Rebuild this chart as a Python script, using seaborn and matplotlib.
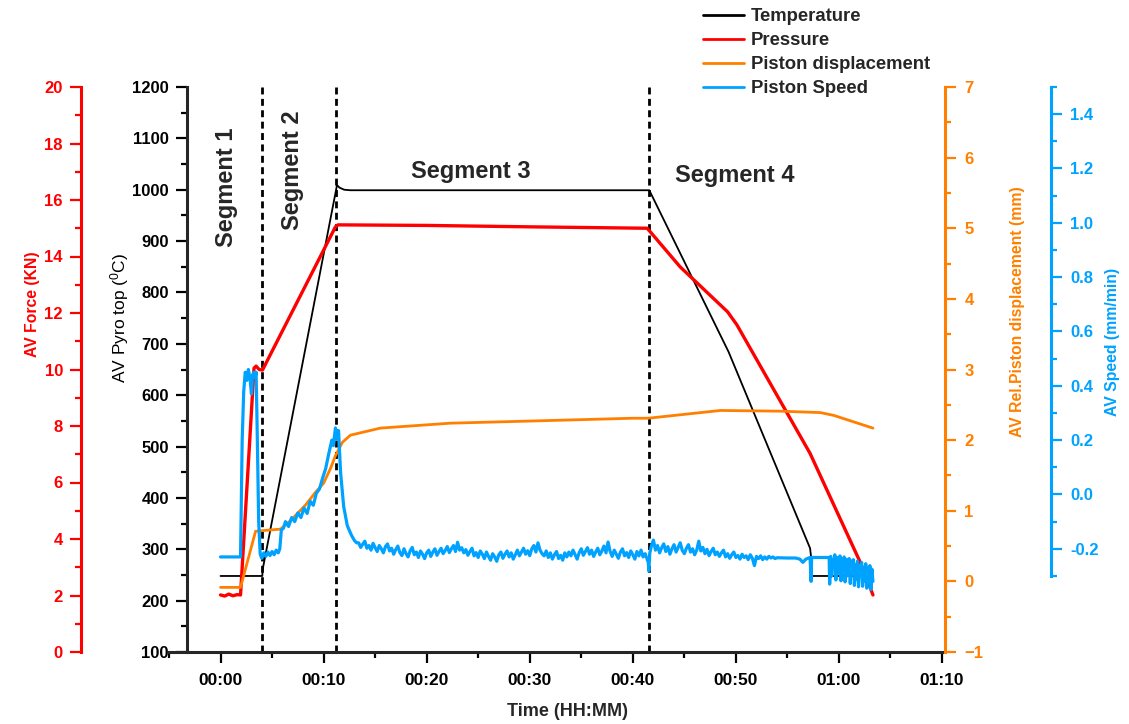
import matplotlib
matplotlib.use("Agg")
import matplotlib.pyplot as plt
from matplotlib.ticker import FixedLocator, FixedFormatter
import pandas as pd
import seaborn as sns

# ---- measured series (time in minutes) ----
temp_t = [0.00, 4.05, 4.10, 11.30, 11.55, 12.00, 12.60, 41.60, 49.30, 57.20, 57.30, 57.33, 63.30]
temp_v = [248, 248, 262, 1009, 1004, 1000, 999, 999, 684, 302, 285, 248, 248]

force_t = [0.00, 0.40, 0.80, 1.20, 1.60, 1.94, 3.25, 3.45, 3.75, 4.07, 11.15, 11.40,
           20.00, 30.00, 41.40, 44.60, 49.20, 50.10, 57.20, 62.10, 63.30]
force_v = [2.02, 1.98, 2.05, 1.99, 2.03, 2.02, 10.05, 10.12, 10.00, 9.98, 15.05, 15.12,
           15.10, 15.05, 15.00, 13.63, 12.04, 11.58, 7.03, 3.15, 2.02]

disp_t = [0.00, 1.94, 3.40, 5.82, 6.79, 8.24, 9.21, 10.00, 10.67, 11.15, 11.83, 12.60,
          15.50, 22.30, 30.00, 40.00, 41.50, 48.50, 54.30, 58.20, 59.50, 63.30]
disp_v = [-0.085, -0.085, 0.71, 0.74, 0.86, 1.08, 1.26, 1.39, 1.60, 1.78, 1.97, 2.07,
          2.17, 2.24, 2.27, 2.31, 2.31, 2.42, 2.41, 2.39, 2.35, 2.17]

speed_t = [
    # start-up pulse
    0.00, 1.94, 2.10, 2.25, 2.40, 2.55, 2.70, 2.85, 3.00, 3.10, 3.25, 3.35, 3.45, 3.55, 3.70, 3.85,
    4.00, 4.20, 4.40, 4.60, 4.80, 5.00, 5.20, 5.40, 5.60, 5.75, 5.90,
    # heating ramp
    6.10, 6.30, 6.60, 6.90, 7.20, 7.50, 7.80, 8.10, 8.40, 8.70, 9.00, 9.30, 9.60, 9.90, 10.20,
    10.50, 10.80, 10.95, 11.15, 11.30, 11.45, 11.65, 11.95, 12.30, 12.70, 13.00, 13.20,
    # dwell
    13.4, 13.6, 13.8, 14.0, 14.2, 14.4, 14.6, 14.8, 15.0, 15.2,
    15.4, 15.6, 15.8, 16.0, 16.2, 16.4, 16.6, 16.8, 17.0, 17.2,
    17.4, 17.6, 17.8, 18.0, 18.2, 18.4, 18.6, 18.8, 19.0, 19.2,
    19.4, 19.6, 19.8, 20.0, 20.2, 20.4, 20.6, 20.8, 21.0, 21.2,
    21.4, 21.6, 21.8, 22.0, 22.2, 22.4, 22.6, 22.8, 23.0, 23.2,
    23.4, 23.6, 23.8, 24.0, 24.2, 24.4, 24.6, 24.8, 25.0, 25.2,
    25.4, 25.6, 25.8, 26.0, 26.2, 26.4, 26.6, 26.8, 27.0, 27.2,
    27.4, 27.6, 27.8, 28.0, 28.2, 28.4, 28.6, 28.8, 29.0, 29.2,
    29.4, 29.6, 29.8, 30.0, 30.2, 30.4, 30.6, 30.8, 31.0, 31.2,
    31.4, 31.6, 31.8, 32.0, 32.2, 32.4, 32.6, 32.8, 33.0, 33.2,
    33.4, 33.6, 33.8, 34.0, 34.2, 34.4, 34.6, 34.8, 35.0, 35.2,
    35.4, 35.6, 35.8, 36.0, 36.2, 36.4, 36.6, 36.8, 37.0, 37.2,
    37.4, 37.6, 37.8, 38.0, 38.2, 38.4, 38.6, 38.8, 39.0, 39.2,
    39.4, 39.6, 39.8, 40.0, 40.2, 40.4, 40.6, 40.8, 41.0, 41.2,
    41.4,
    # cooling
    41.50, 41.55, 41.65, 41.80, 42.00,
    42.2, 42.4, 42.6, 42.8, 43.0, 43.2, 43.4, 43.6, 43.8, 44.0,
    44.2, 44.4, 44.6, 44.8, 45.0, 45.2, 45.4, 45.6, 45.8, 46.0,
    46.2, 46.4, 46.6, 46.8, 47.0, 47.2, 47.4, 47.6, 47.8, 48.0,
    48.2, 48.4, 48.6, 48.8, 49.0, 49.2, 49.4, 49.6, 49.8, 50.0,
    50.2, 50.4, 50.6, 50.8, 51.0, 51.2, 51.4, 51.6, 51.8, 52.0,
    52.2, 52.4, 52.6, 52.8, 53.0, 53.2, 53.4, 53.6, 53.8, 54.0,
    55.00, 55.80, 56.20, 56.50, 56.80, 57.20, 57.30, 57.35, 59.05, 59.10,
    59.2, 59.3, 59.4, 59.5, 59.6, 59.7, 59.8, 59.9, 60.0, 60.1,
    60.2, 60.3, 60.4, 60.5, 60.6, 60.7, 60.8, 60.9, 61.0, 61.1,
    61.2, 61.3, 61.4, 61.5, 61.6, 61.7, 61.8, 61.9, 62.0, 62.1,
    62.2, 62.3, 62.4, 62.5, 62.6, 62.7, 62.8, 62.9, 63.0, 63.1,
    63.2, 63.3,
]
speed_v = [
    # start-up pulse
    -0.230, -0.230, 0.200, 0.380, 0.450, 0.420, 0.460, 0.430, 0.370, 0.440, 0.450, 0.430, 0.450, 0.250, -0.100, -0.220,
    -0.235, -0.215, -0.228, -0.212, -0.225, -0.210, -0.222, -0.205, -0.215, -0.200, -0.130,
    # heating ramp
    -0.125, -0.100, -0.118, -0.085, -0.100, -0.068, -0.085, -0.050, -0.070, -0.025, -0.040, 0.005, 0.020, 0.060, 0.095,
    0.150, 0.200, 0.180, 0.245, 0.205, 0.235, 0.080, -0.045, -0.115, -0.150, -0.170, -0.178,
    # dwell
    -0.178, -0.195, -0.183, -0.172, -0.198, -0.188, -0.205, -0.180, -0.196, -0.210,
    -0.188, -0.200, -0.215, -0.192, -0.182, -0.208, -0.198, -0.220, -0.203, -0.190,
    -0.214, -0.225, -0.200, -0.218, -0.230, -0.207, -0.195, -0.222, -0.212, -0.232,
    -0.208, -0.220, -0.236, -0.215, -0.205, -0.228, -0.212, -0.200, -0.224, -0.210,
    -0.198, -0.218, -0.206, -0.192, -0.214, -0.200, -0.188, -0.210, -0.176, -0.205,
    -0.196, -0.215, -0.203, -0.224, -0.210, -0.198, -0.226, -0.214, -0.232, -0.208,
    -0.220, -0.236, -0.212, -0.228, -0.242, -0.218, -0.230, -0.246, -0.222, -0.212,
    -0.235, -0.220, -0.208, -0.230, -0.215, -0.238, -0.222, -0.205, -0.226, -0.212,
    -0.198, -0.220, -0.207, -0.225, -0.200, -0.188, -0.212, -0.178, -0.205, -0.218,
    -0.226, -0.208, -0.232, -0.215, -0.238, -0.222, -0.210, -0.236, -0.224, -0.242,
    -0.215, -0.230, -0.212, -0.226, -0.205, -0.222, -0.238, -0.214, -0.200, -0.224,
    -0.210, -0.196, -0.220, -0.205, -0.228, -0.212, -0.198, -0.222, -0.208, -0.190,
    -0.215, -0.175, -0.210, -0.228, -0.205, -0.220, -0.235, -0.212, -0.200, -0.226,
    -0.214, -0.232, -0.208, -0.222, -0.238, -0.210, -0.226, -0.205, -0.230, -0.218,
    -0.240,
    # cooling
    -0.250, -0.282, -0.215, -0.190, -0.168,
    -0.205, -0.188, -0.215, -0.196, -0.182, -0.210, -0.192, -0.220, -0.200, -0.185,
    -0.212, -0.195, -0.178, -0.206, -0.218, -0.198, -0.185, -0.212, -0.200, -0.222,
    -0.205, -0.172, -0.208, -0.195, -0.218, -0.202, -0.225, -0.210, -0.198, -0.222,
    -0.212, -0.228, -0.215, -0.205, -0.230, -0.218, -0.235, -0.222, -0.212, -0.232,
    -0.225, -0.238, -0.220, -0.232, -0.226, -0.240, -0.222, -0.235, -0.262, -0.228,
    -0.236, -0.226, -0.240, -0.230, -0.238, -0.228, -0.234, -0.230, -0.236, -0.233,
    -0.234, -0.234, -0.238, -0.250, -0.238, -0.232, -0.320, -0.232, -0.232, -0.330,
    -0.228, -0.300, -0.240, -0.262, -0.222, -0.315, -0.250, -0.232, -0.290, -0.226,
    -0.318, -0.244, -0.275, -0.230, -0.322, -0.238, -0.300, -0.252, -0.236, -0.328,
    -0.245, -0.290, -0.240, -0.335, -0.258, -0.312, -0.245, -0.340, -0.262, -0.295,
    -0.250, -0.338, -0.268, -0.318, -0.255, -0.345, -0.270, -0.325, -0.262, -0.350,
    -0.275, -0.320,
]

segment_bounds = [4.07, 11.25, 41.6]
segment_names = ["Segment 1", "Segment 2", "Segment 3", "Segment 4"]

x_ticks = [0, 10, 20, 30, 40, 50, 60, 70]
x_tick_labels = ["00:00", "00:10", "00:20", "00:30", "00:40", "00:50", "01:00", "01:10"]

series_names = ["Temperature", "Pressure", "Piston displacement", "Piston Speed"]

BLACK, RED, ORANGE, BLUE = "#000000", "#ff0000", "#ff8000", "#00a2ff"

sns.set_theme(style="ticks")
plt.rcParams["font.family"] = ["Liberation Sans", "DejaVu Sans"]
plt.rcParams["mathtext.default"] = "regular"
plt.rcParams["axes.linewidth"] = 2.2

W, H = 1129, 724
L, R, B, T = 169, 942, 652, 87
fig = plt.figure(figsize=(W / 100, H / 100), dpi=100)
ax = fig.add_axes([L / W, 1 - B / H, (R - L) / W, (B - T) / H])
ax_f = ax.twinx()
ax_d = ax.twinx()
ax_s = ax.twinx()

df_temp = pd.DataFrame({"t": temp_t, "v": temp_v})
df_force = pd.DataFrame({"t": force_t, "v": force_v})
df_disp = pd.DataFrame({"t": disp_t, "v": disp_v})
df_speed = pd.DataFrame({"t": speed_t, "v": speed_v})

sns.lineplot(data=df_temp, x="t", y="v", ax=ax, color=BLACK, linewidth=1.3,
             sort=False, estimator=None)
h_temp = ax.lines[-1]
for xb in segment_bounds:
    ax.axvline(xb, color=BLACK, linewidth=2.0, linestyle=(0, (2.5, 1.6)), zorder=1)

sns.lineplot(data=df_force, x="t", y="v", ax=ax_f, color=RED, linewidth=2.4,
             sort=False, estimator=None)
h_force = ax_f.lines[-1]
sns.lineplot(data=df_disp, x="t", y="v", ax=ax_d, color=ORANGE, linewidth=2.0,
             sort=False, estimator=None)
h_disp = ax_d.lines[-1]
sns.lineplot(data=df_speed, x="t", y="v", ax=ax_s, color=BLUE, linewidth=2.3,
             sort=False, estimator=None)
h_speed = ax_s.lines[-1]

TICK_FS = 12
# ---- main axes: time and pyrometer temperature ----
ax.set_xlim(-5, 70)
ax.set_ylim(100, 1200)
ax.spines["top"].set_visible(False)
ax.spines["right"].set_visible(False)
ax.spines["left"].set_position(("axes", (187 - L) / (R - L)))
ax.xaxis.set_major_locator(FixedLocator(x_ticks))
ax.xaxis.set_major_formatter(FixedFormatter(x_tick_labels))
ax.xaxis.set_minor_locator(FixedLocator([-5, 5, 15, 25, 35, 45, 55, 65]))
ax.yaxis.set_major_locator(FixedLocator(list(range(100, 1201, 100))))
ax.yaxis.set_minor_locator(FixedLocator(list(range(150, 1200, 100))))
ax.tick_params(axis="both", which="major", direction="out", length=8, width=1.6,
               labelsize=TICK_FS, colors=BLACK)
ax.tick_params(axis="both", which="minor", direction="out", length=4.5, width=1.6, colors=BLACK)
ax.tick_params(axis="x", which="major", pad=7, labelsize=12.5)
ax.tick_params(axis="y", which="major", pad=5)
for lab in ax.get_xticklabels() + ax.get_yticklabels():
    lab.set_fontweight("bold")
ax.set_xlabel("Time (HH:MM)", fontsize=13, fontweight="bold")
ax.xaxis.set_label_coords(0.515, -0.106)
ax.xaxis.label.set_va("center")
ax.set_ylabel("AV Pyro top ($^{0}$C)", fontsize=12.5, color=BLACK)
ax.yaxis.set_label_coords(-0.0634, 0.591)
ax.yaxis.label.set(va="center", ha="center", rotation_mode="anchor")


def style_twin(a, side, pos, color):
    for s in a.spines.values():
        s.set_visible(False)
    sp = a.spines[side]
    sp.set_visible(True)
    sp.set_position(("axes", pos))
    sp.set_color(color)
    sp.set_linewidth(2.2)
    if side == "left":
        a.yaxis.set_ticks_position("left")
        a.yaxis.set_label_position("left")
    else:
        a.yaxis.set_ticks_position("right")
        a.yaxis.set_label_position("right")
    a.tick_params(axis="y", which="major", direction="out", length=8, width=1.6,
                  colors=color, labelsize=TICK_FS)
    a.tick_params(axis="y", which="minor", direction="out", length=4.5, width=1.6, colors=color)
    for lab in a.get_yticklabels():
        lab.set_fontweight("bold")


# ---- force axis (left, red) ----
ax_f.set_ylim(0, 20)
ax_f.yaxis.set_major_locator(FixedLocator(list(range(0, 21, 2))))
ax_f.yaxis.set_minor_locator(FixedLocator(list(range(1, 20, 2))))
style_twin(ax_f, "left", (81 - L) / (R - L), RED)
ax_f.tick_params(axis="y", which="major", pad=5)
ax_f.set_ylabel("AV Force (KN)", fontsize=11.3, fontweight="bold", color=RED)
ax_f.yaxis.set_label_coords(-0.177, 0.616)
ax_f.yaxis.label.set(va="center", ha="center", rotation=90, rotation_mode="anchor")

# ---- displacement axis (right, orange) ----
ax_d.set_ylim(-1, 7)
ax_d.yaxis.set_major_locator(FixedLocator(list(range(-1, 8))))
ax_d.yaxis.set_minor_locator(FixedLocator([v + 0.5 for v in range(-1, 7)]))
style_twin(ax_d, "right", (945 - L) / (R - L), ORANGE)
ax_d.tick_params(axis="y", which="major", pad=6)
ax_d.set_ylabel("AV Rel.Piston displacement (mm)", fontsize=11.3, fontweight="bold", color=ORANGE)
ax_d.yaxis.set_label_coords(1.098, 0.602)
ax_d.yaxis.label.set(va="center", ha="center", rotation=90, rotation_mode="anchor")

# ---- speed axis (far right, blue) ----
ax_s.set_ylim(-0.58, 1.5)
speed_major = [-0.2, 0.0, 0.2, 0.4, 0.6, 0.8, 1.0, 1.2, 1.4]
ax_s.yaxis.set_major_locator(FixedLocator(speed_major))
ax_s.yaxis.set_major_formatter(FixedFormatter([f"{v:.1f}" for v in speed_major]))
ax_s.yaxis.set_minor_locator(FixedLocator([-0.3, -0.1, 0.1, 0.3, 0.5, 0.7, 0.9, 1.1, 1.3, 1.5]))
style_twin(ax_s, "right", (1051 - L) / (R - L), BLUE)
ax_s.spines["right"].set_bounds(-0.3, 1.5)
ax_s.tick_params(axis="y", which="major", pad=6)
ax_s.set_ylabel("AV Speed (mm/min)", fontsize=11.3, fontweight="bold", color=BLUE)
ax_s.yaxis.set_label_coords(1.221, 0.549)
ax_s.yaxis.label.set(va="center", ha="center", rotation=90, rotation_mode="anchor")

for a in (ax_f, ax_d, ax_s):
    a.set_xlim(-5, 70)

# ---- segment annotations ----
seg_fs = 17
ax.text(0.55, 1005, segment_names[0], rotation=90, ha="center", va="center",
        fontsize=seg_fs, fontweight="bold")
ax.text(6.98, 1038, segment_names[1], rotation=90, ha="center", va="center",
        fontsize=seg_fs, fontweight="bold")
ax.text(24.25, 1036, segment_names[2], ha="center", va="center",
        fontsize=seg_fs, fontweight="bold")
ax.text(49.85, 1028, segment_names[3], ha="center", va="center",
        fontsize=seg_fs, fontweight="bold")

# ---- legend ----
leg = fig.legend([h_temp, h_force, h_disp, h_speed], series_names,
                 loc="upper left", bbox_to_anchor=(703 / W, 1 - 8 / H),
                 frameon=False, prop={"weight": "bold", "size": 13.3},
                 handlelength=2.2, handletextpad=0.4, labelspacing=0.38,
                 borderpad=0, borderaxespad=0)
for line in leg.get_lines():
    line.set_linewidth(2.0)

fig.savefig("out.png", dpi=100)
